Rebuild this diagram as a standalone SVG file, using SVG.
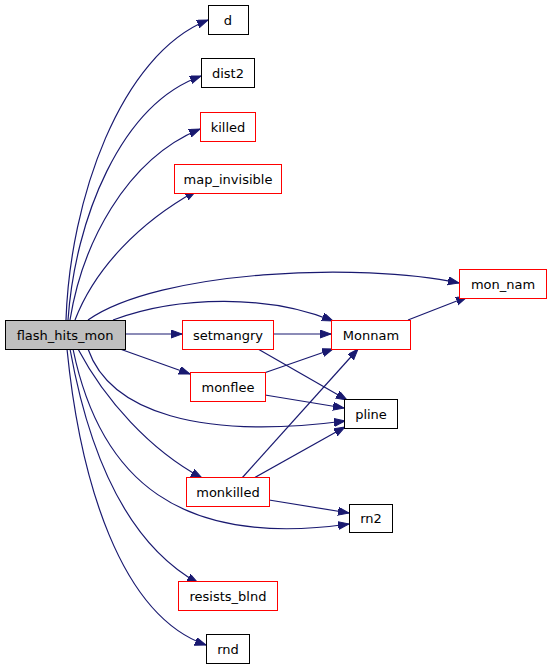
<svg xmlns="http://www.w3.org/2000/svg" width="552" height="669" viewBox="0 0 552 669">
<style>
.n rect{fill:#fff;stroke:#000;stroke-width:1}
.n.r rect{stroke:#ff0000}
.n.root rect{fill:#bfbfbf}
.n text{font-family:"DejaVu Sans",sans-serif;font-size:13px;text-anchor:middle;fill:#000}
.e path{fill:none;stroke:#191970;stroke-width:1.2;marker-end:url(#a)}
</style>
<defs>
<marker id="a" markerUnits="userSpaceOnUse" markerWidth="12" markerHeight="9" refX="11" refY="4" orient="auto">
<path d="M0,0 L11,4 L0,8 z" fill="#191970" stroke="#191970"/>
</marker>
</defs>
<rect width="552" height="669" fill="#fff"/>
<g class="e" id="edges">
<path d="M66,320 C70,200 120,55 208,20"/>
<path d="M68,320 C75,220 120,105 201,76"/>
<path d="M70,320 C82,245 125,160 200,129"/>
<path d="M75,320 C95,268 140,222 196,191"/>
<path d="M88,320 C160,270 360,262 459,283"/>
<path d="M113,320 C180,295 270,295 333,321"/>
<path d="M125,334 L182,334"/>
<path d="M120,349 L190,374"/>
<path d="M88,349 C110,412 200,440 345,421"/>
<path d="M78,349 C105,400 150,450 202,478"/>
<path d="M73,349 C100,480 180,548 349,524"/>
<path d="M70,349 C90,460 130,545 198,583"/>
<path d="M67,349 C80,480 120,615 206,645"/>
<path d="M273,334 L331,334"/>
<path d="M258,349 L347,400"/>
<path d="M264,373 L333,349"/>
<path d="M265,395 L344,408"/>
<path d="M242,478 L358,349"/>
<path d="M254,478 L345,427"/>
<path d="M269,500 L349,513"/>
<path d="M408,320 L467,297"/>
</g>
<g class="n root" id="flash_hits_mon"><rect x="5.5" y="320.5" width="120" height="29"/><text x="65" y="339.5">flash_hits_mon</text></g>
<g class="n" id="d"><rect x="208.5" y="5.5" width="40" height="29"/><text x="228" y="24.5">d</text></g>
<g class="n" id="dist2"><rect x="201.5" y="58.5" width="53" height="29"/><text x="228" y="77.5">dist2</text></g>
<g class="n r" id="killed"><rect x="200.5" y="112.5" width="55" height="29"/><text x="228" y="131.5">killed</text></g>
<g class="n r" id="map_invisible"><rect x="174.5" y="164.5" width="107" height="29"/><text x="228" y="183.5">map_invisible</text></g>
<g class="n r" id="mon_nam"><rect x="459.5" y="269.5" width="87" height="29"/><text x="503" y="288.5">mon_nam</text></g>
<g class="n r" id="setmangry"><rect x="182.5" y="320.5" width="91" height="29"/><text x="228" y="339.5">setmangry</text></g>
<g class="n r" id="Monnam"><rect x="331.5" y="320.5" width="79" height="29"/><text x="371" y="339.5">Monnam</text></g>
<g class="n r" id="monflee"><rect x="190.5" y="372.5" width="75" height="29"/><text x="228" y="391.5">monflee</text></g>
<g class="n" id="pline"><rect x="344.5" y="399.5" width="53" height="29"/><text x="371" y="418.5">pline</text></g>
<g class="n r" id="monkilled"><rect x="186.5" y="477.5" width="83" height="29"/><text x="228" y="496.5">monkilled</text></g>
<g class="n" id="rn2"><rect x="349.5" y="504.5" width="43" height="28"/><text x="371" y="523">rn2</text></g>
<g class="n r" id="resists_blnd"><rect x="178.5" y="581.5" width="99" height="29"/><text x="228" y="600.5">resists_blnd</text></g>
<g class="n" id="rnd"><rect x="206.5" y="634.5" width="43" height="29"/><text x="228" y="653.5">rnd</text></g>
</svg>
